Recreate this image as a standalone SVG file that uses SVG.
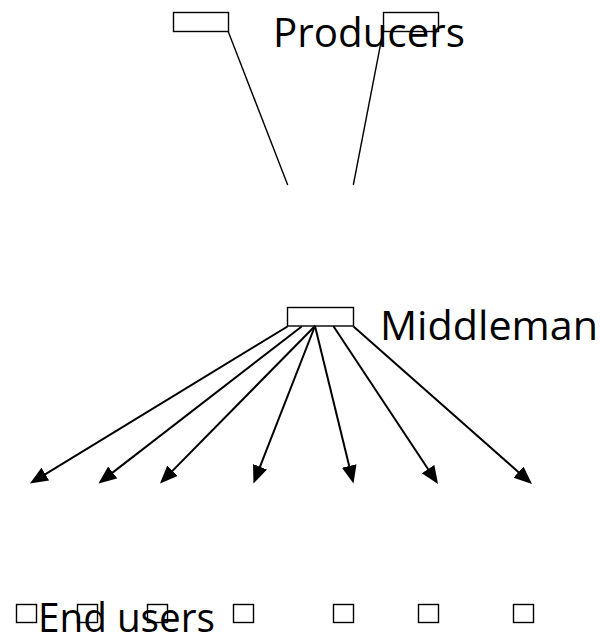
<svg xmlns="http://www.w3.org/2000/svg" width="600" height="634" viewBox="0 0 600 634">
  <style>
    .label { font-family: "Open Sans", "Liberation Sans", sans-serif; font-size: 40px; fill: #000; }
    .box { fill: none; stroke: #000; stroke-width: 1.4; }
    .line { stroke: #000; stroke-width: 1.4; fill: none; }
    .arrow { stroke: #000; stroke-width: 2; fill: none; marker-end: url(#head); }
  </style>
  <defs>
    <marker id="head" markerUnits="userSpaceOnUse" markerWidth="20" markerHeight="18" refX="8" refY="7.5" orient="auto">
      <path d="M0,0 L18,7.5 L0,15 Z" fill="#000"/>
    </marker>
  </defs>

  <rect width="600" height="634" fill="#fff"/>

  <!-- Producers -->
  <g id="producers">
    <text class="label" x="273" y="47" textLength="192" lengthAdjust="spacingAndGlyphs">Producers</text>
    <rect class="box" x="173.5" y="12.5" width="55" height="19"/>
    <rect class="box" x="383.5" y="12.5" width="55" height="19"/>
  </g>

  <!-- Middleman -->
  <g id="middleman">
    <rect class="box" x="287.5" y="307.5" width="66" height="18.5"/>
    <text class="label" x="380" y="340" textLength="218" lengthAdjust="spacingAndGlyphs">Middleman</text>
  </g>

  <!-- End users -->
  <g id="end-users">
    <text class="label" x="38" y="632" textLength="177" lengthAdjust="spacingAndGlyphs">End users</text>
    <rect class="box" x="16.5" y="604.5" width="20" height="18"/>
    <rect class="box" x="77.5" y="604.5" width="20" height="18"/>
    <rect class="box" x="147.5" y="604.5" width="20" height="18"/>
    <rect class="box" x="233.5" y="604.5" width="20" height="18"/>
    <rect class="box" x="333.5" y="604.5" width="20" height="18"/>
    <rect class="box" x="418.5" y="604.5" width="20" height="18"/>
    <rect class="box" x="513.5" y="604.5" width="20" height="18"/>
  </g>

  <!-- Connectors: producer links and middleman-to-end-user arrows -->
  <g id="connectors">
    <line class="line" x1="228.3" y1="31.7" x2="287.7" y2="185"/>
    <line class="line" x1="383" y1="31.7" x2="353.3" y2="185"/>

    <line class="arrow" x1="287.5" y1="326.5" x2="38.5" y2="478.3"/>
    <line class="arrow" x1="301.7" y1="326.5" x2="106.4" y2="477.4"/>
    <line class="arrow" x1="315" y1="326" x2="167.0" y2="476.4"/>
    <line class="arrow" x1="315" y1="326" x2="257.1" y2="474.2"/>
    <line class="arrow" x1="315" y1="326" x2="351.1" y2="473.8"/>
    <line class="arrow" x1="333.3" y1="326" x2="432.5" y2="475.7"/>
    <line class="arrow" x1="353.5" y1="326.5" x2="524.5" y2="477.4"/>
  </g>
</svg>
